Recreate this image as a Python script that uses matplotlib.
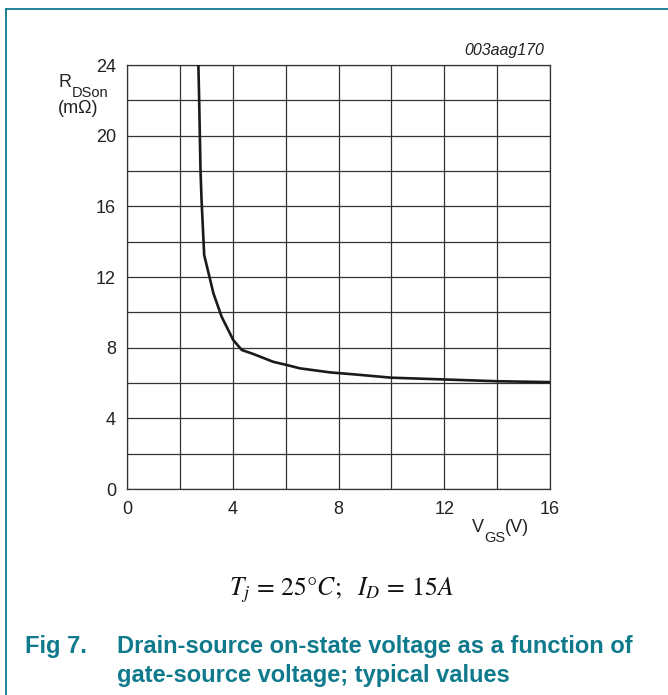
import matplotlib
matplotlib.use("Agg")
import matplotlib.pyplot as plt
from matplotlib.lines import Line2D

TEAL = "#0f7a8c"
INK = "#222222"

# R_DSon vs V_GS curve
vgs = [2.70, 2.73, 2.78, 2.82, 2.92, 3.27, 3.58, 4.02, 4.34, 4.78, 5.53,
       6.04, 6.54, 7.68, 8.5, 10.0, 12.0, 14.0, 16.0]
rdson = [24.0, 22.0, 18.05, 16.35, 13.24, 11.07, 9.75, 8.43, 7.87, 7.64, 7.20,
         7.02, 6.83, 6.60, 6.50, 6.30, 6.20, 6.10, 6.05]
x_ticks = [0, 4, 8, 12, 16]
y_ticks = [0, 4, 8, 12, 16, 20, 24]

plt.rcParams["font.family"] = ["Liberation Sans", "DejaVu Sans"]
plt.rcParams["mathtext.fontset"] = "stix"

W, H = 668, 695
fig = plt.figure(figsize=(W / 100, H / 100), dpi=100)
ax = fig.add_axes([127 / W, 1 - 489 / H, 423 / W, 424 / H])


def px(x, y):
    return x / W, 1 - y / H


ax.plot(vgs, rdson, color="#1a1a1a", lw=1.9, solid_joinstyle="round", zorder=3)
ax.set_xlim(0, 16)
ax.set_ylim(0, 24)
ax.set_xticks(x_ticks)
ax.set_yticks(y_ticks)
ax.set_xticks(range(0, 17, 2), minor=True)
ax.set_yticks(range(0, 25, 2), minor=True)
ax.grid(True, which="both", color="#333333", lw=0.9)
ax.tick_params(which="both", length=0, labelsize=13, colors=INK)
ax.tick_params(axis="x", pad=8.5)
ax.tick_params(axis="y", pad=8)
for s in ax.spines.values():
    s.set_color("#333333")
    s.set_linewidth(0.9)

# axis labels, pieced together so the subscripts sit like the original
fig.text(*px(58, 87), "R", fontsize=13, ha="left", va="baseline", color=INK)
fig.text(*px(72, 97), "DSon", fontsize=10.5, ha="left", va="baseline", color=INK)
fig.text(*px(58, 113), "(m\u03a9)", fontsize=13, ha="left", va="baseline", color=INK)

fig.text(*px(472, 532), "V", fontsize=13, ha="left", va="baseline", color=INK)
fig.text(*px(484, 542), "GS", fontsize=10.5, ha="left", va="baseline", color=INK)
fig.text(*px(505, 532), "(V)", fontsize=13, ha="left", va="baseline", color=INK)

fig.text(*px(504, 50), "003aag170", fontsize=11.5, style="italic",
         ha="center", va="center", color=INK)

fig.text(*px(341, 595), r"$T_j \,=\, 25°C;\ \ I_D \,=\, 15A$", fontsize=18.5,
         ha="center", va="baseline", color="#111111")

fig.text(*px(25, 653), "Fig 7.", fontsize=17, fontweight="bold",
         ha="left", va="baseline", color=TEAL)
fig.text(*px(117, 653), "Drain-source on-state voltage as a function of",
         fontsize=17, fontweight="bold", ha="left", va="baseline", color=TEAL)
fig.text(*px(117, 682), "gate-source voltage; typical values",
         fontsize=17, fontweight="bold", ha="left", va="baseline", color=TEAL)

# page frame
fig.add_artist(Line2D([6 / W, 1], [1 - 9 / H, 1 - 9 / H], color=TEAL, lw=1.3))
fig.add_artist(Line2D([6 / W, 6 / W], [0, 1 - 9 / H], color=TEAL, lw=1.3))

fig.savefig("out.png", dpi=100)
